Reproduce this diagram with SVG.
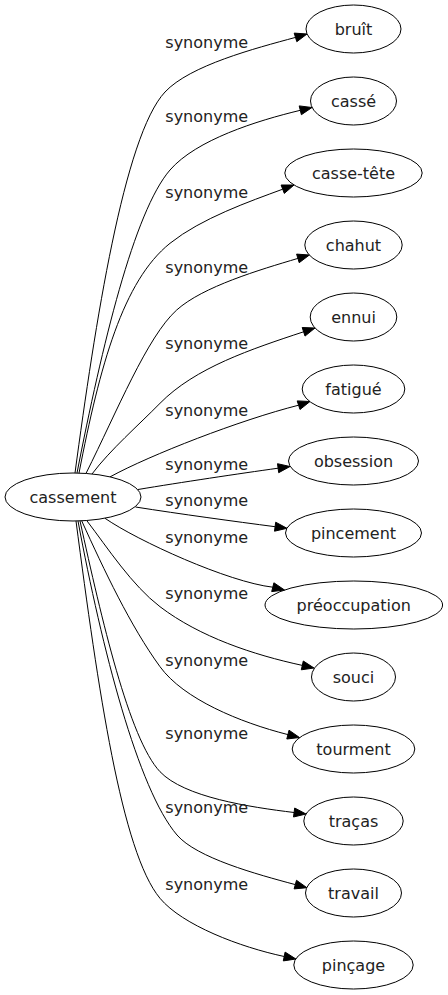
<svg xmlns="http://www.w3.org/2000/svg" width="448" height="995" viewBox="0 0 448 995">
<style>
.n ellipse{fill:none;stroke:#000;stroke-width:1}
.n text{font-family:"DejaVu Sans",Verdana,sans-serif;font-size:16px;fill:#222;text-anchor:middle}
.e path{fill:none;stroke:#000;stroke-width:1}
.e polygon{fill:#000;stroke:#000;stroke-width:1}
.l text{font-family:"DejaVu Sans",Verdana,sans-serif;font-size:16px;fill:#222;text-anchor:middle}
</style>
<rect width="448" height="995" fill="#fff"/>
<g id="edges" class="e">
<path d="M75,473 C95,324.4 124,135.8 165,92 C190,65.3 255,48.4 295.5,37.4"/>
<polygon points="296.8,41.7 307,34 294.2,33.1"/>
<path d="M77,473 C102,345.5 134,211.6 170,170 C196.2,139.8 256.6,120.8 300.3,110.3"/>
<polygon points="301.4,114.7 312,107.5 299.2,105.9"/>
<path d="M79,473.1 C99.9,365.2 123.1,280.8 170,243.3 C201.2,218.3 249.9,201.3 282.7,189.2"/>
<polygon points="284.3,193.4 294,185 281.1,185"/>
<path d="M86,473.4 C117.5,410.5 147,336.8 176.7,310 C202.7,286.6 259.6,269.8 297.9,258.4"/>
<polygon points="299.2,262.7 309.4,255 296.6,254.1"/>
<path d="M92,474 C110,450 139,424.7 160,403.3 C195,367.6 251.4,349.1 303.6,331.8"/>
<polygon points="305,336.1 315,328 302.2,327.5"/>
<path d="M110,476.9 C150,455 240,420 298.6,405.2"/>
<polygon points="300,409.5 310,401.5 297.2,400.9"/>
<path d="M138,489.5 C180,482.5 240,473.5 278.1,468.2"/>
<polygon points="278.7,472.7 290,466.5 277.5,463.7"/>
<path d="M135.5,507 C180,514 235,521.5 275.1,526.7"/>
<polygon points="274.5,531.2 287,528.3 275.7,522.2"/>
<path d="M105,518.3 C138,541 228,582 272.8,587.2"/>
<polygon points="271.7,591.6 284.5,590 273.9,582.8"/>
<path d="M86.7,520.5 C107.7,548 132.1,585.5 160,606.7 C199.8,637 253.4,654.8 302.3,665.4"/>
<polygon points="301.3,669.8 314,668 303.3,661"/>
<path d="M81.7,520.8 C104.1,570.2 130.6,626.3 160,666.7 C183.5,699 239.5,722.3 287.9,734.6"/>
<polygon points="286.8,739 299.5,737.5 289,730.2"/>
<path d="M80,520.9 C101.5,618.7 129.1,739 160,771.7 C184,797.1 249.4,807.1 294.1,812.5"/>
<polygon points="293.5,817 306,814 294.7,808"/>
<path d="M78,521 C101.9,648.8 138,789.4 177,835 C196.5,857.8 256.7,874.3 295.3,884.6"/>
<polygon points="294.1,888.9 306.9,887.7 296.5,880.3"/>
<path d="M76,521 C98.1,689.3 121.6,852.2 160,898.3 C182.4,925.2 240.2,947.1 284.2,956.5"/>
<polygon points="283.3,960.9 295.9,959 285.1,952.1"/>
</g>
<g id="labels" class="l">
<text x="206.7" y="47.5">synonyme</text>
<text x="206.7" y="121.5">synonyme</text>
<text x="206.7" y="197.5">synonyme</text>
<text x="206.7" y="272.5">synonyme</text>
<text x="206.7" y="348.5">synonyme</text>
<text x="206.7" y="415.5">synonyme</text>
<text x="206.7" y="469.5">synonyme</text>
<text x="206.7" y="505.5">synonyme</text>
<text x="206.7" y="542.5">synonyme</text>
<text x="206.7" y="598.5">synonyme</text>
<text x="206.7" y="665.5">synonyme</text>
<text x="206.7" y="738.5">synonyme</text>
<text x="206.7" y="812.5">synonyme</text>
<text x="206.7" y="889.5">synonyme</text>
</g>
<g id="cassement" class="n"><ellipse cx="73" cy="497" rx="68" ry="24"/><text x="73" y="502.5">cassement</text></g>
<g id="bruit" class="n"><ellipse cx="353.5" cy="29" rx="47.5" ry="24"/><text x="353.5" y="34.5">bruît</text></g>
<g id="casse" class="n"><ellipse cx="353.5" cy="101" rx="43" ry="24"/><text x="353.5" y="106.5">cassé</text></g>
<g id="casse-tete" class="n"><ellipse cx="353.5" cy="173" rx="68.7" ry="24"/><text x="353.5" y="178.5">casse-tête</text></g>
<g id="chahut" class="n"><ellipse cx="353.5" cy="245" rx="48.7" ry="24"/><text x="353.5" y="250.5">chahut</text></g>
<g id="ennui" class="n"><ellipse cx="353.5" cy="317" rx="43.3" ry="24"/><text x="353.5" y="322.5">ennui</text></g>
<g id="fatigue" class="n"><ellipse cx="353.5" cy="389" rx="51.3" ry="24"/><text x="353.5" y="394.5">fatigué</text></g>
<g id="obsession" class="n"><ellipse cx="353.5" cy="461" rx="65" ry="24"/><text x="353.5" y="466.5">obsession</text></g>
<g id="pincement" class="n"><ellipse cx="353.5" cy="533" rx="68" ry="24"/><text x="353.5" y="538.5">pincement</text></g>
<g id="preoccupation" class="n"><ellipse cx="353.8" cy="605" rx="88.8" ry="24"/><text x="353.8" y="610.5">préoccupation</text></g>
<g id="souci" class="n"><ellipse cx="353.5" cy="677" rx="42" ry="24"/><text x="353.5" y="682.5">souci</text></g>
<g id="tourment" class="n"><ellipse cx="353.5" cy="749" rx="61.3" ry="24"/><text x="353.5" y="754.5">tourment</text></g>
<g id="tracas" class="n"><ellipse cx="353.5" cy="821" rx="49.7" ry="24"/><text x="353.5" y="826.5">traças</text></g>
<g id="travail" class="n"><ellipse cx="353.5" cy="893" rx="48" ry="24"/><text x="353.5" y="898.5">travail</text></g>
<g id="pincage" class="n"><ellipse cx="353.5" cy="965" rx="59.7" ry="24"/><text x="353.5" y="970.5">pinçage</text></g>
</svg>
